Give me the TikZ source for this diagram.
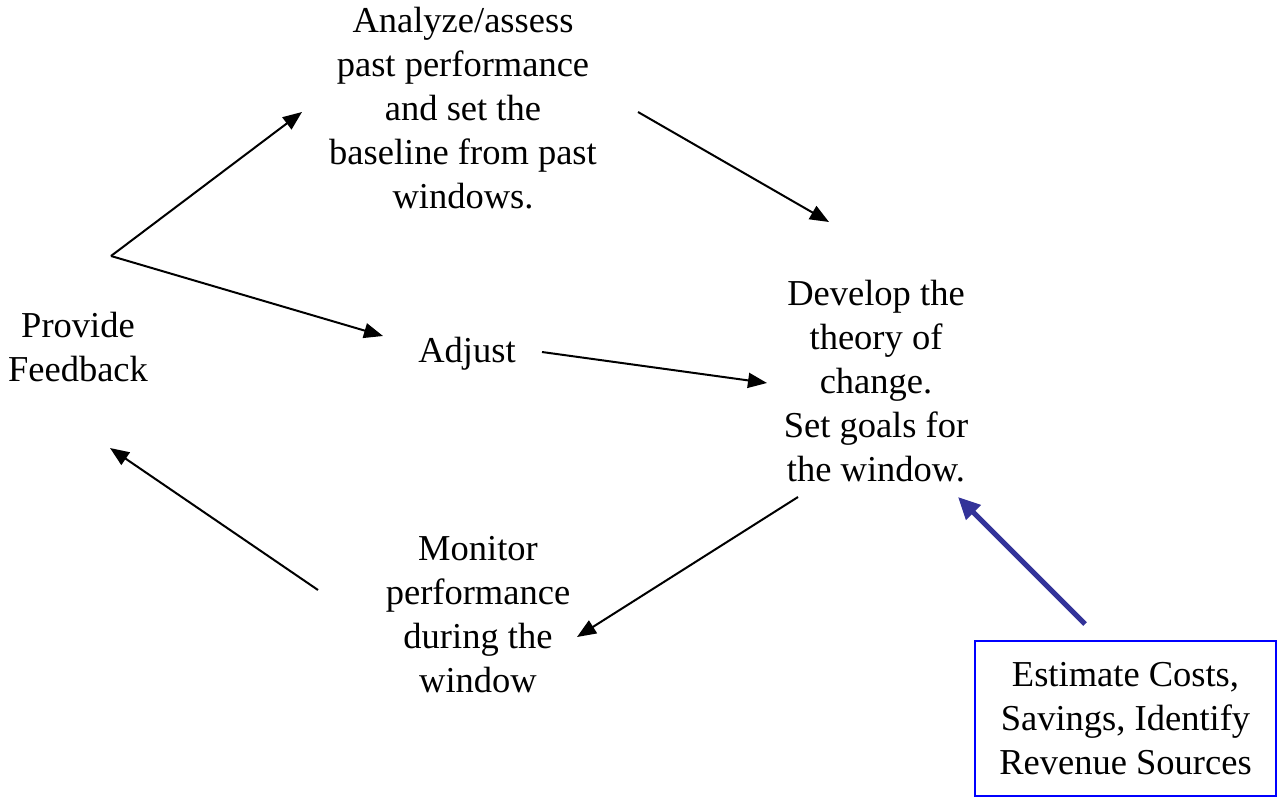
\documentclass[tikz,border=0pt]{standalone}
\usepackage{fontspec}
\setmainfont{Liberation Serif}
\usetikzlibrary{arrows.meta}
\definecolor{linkblue}{RGB}{51,51,153}
\definecolor{boxblue}{RGB}{0,0,255}
\tikzset{
  lbl/.style={align=center, inner sep=0pt, font=\fontsize{36.5}{44}\selectfont},
  flow/.style={line width=2pt, -{Triangle[length=19pt,width=15pt]}},
  feed/.style={line width=5pt, color=linkblue, -{Triangle[length=22pt,width=20pt]}},
}
\begin{document}
\begin{tikzpicture}[x=1pt,y=-1pt]
\useasboundingbox (0,0) rectangle (1277,797);

% text blocks of the cycle
\node[lbl] (feedback) at (78,347) {Provide\\Feedback};
\node[lbl] (analyze) at (463,108) {Analyze/assess\\past performance\\and set the\\baseline from past\\windows.};
\node[lbl] (develop) at (876,381) {Develop the\\theory of\\change.\\Set goals for\\the window.};
\node[lbl] (adjust) at (467,354) {Adjust};
\node[lbl] (monitor) at (478,615) {Monitor\\performance\\during the\\window};

% cost box
\node[lbl, draw=boxblue, line width=2pt, minimum width=301pt, minimum height=155pt] (costs) at (1125.5,718.5)
  {Estimate Costs,\\Savings, Identify\\Revenue Sources};

% connector end points
\coordinate (fork) at (111,256);
\coordinate (toAnalyze) at (302,112);
\coordinate (toAdjust) at (383,336);
\coordinate (fromAnalyze) at (638,112);
\coordinate (toDevelopA) at (829,222);
\coordinate (fromAdjust) at (542,352);
\coordinate (toDevelopB) at (767,383);
\coordinate (fromDevelop) at (798,497);
\coordinate (toMonitor) at (577,637);
\coordinate (fromMonitor) at (318,590);
\coordinate (toFeedback) at (110,448);
\coordinate (fromCosts) at (1085,624);
\coordinate (toDevelopC) at (958,497);

\draw[flow] (fork) -- (toAnalyze);
\draw[flow] (fork) -- (toAdjust);
\draw[flow] (fromAnalyze) -- (toDevelopA);
\draw[flow] (fromAdjust) -- (toDevelopB);
\draw[flow] (fromDevelop) -- (toMonitor);
\draw[flow] (fromMonitor) -- (toFeedback);
\draw[feed] (fromCosts) -- (toDevelopC);
\end{tikzpicture}
\end{document}
